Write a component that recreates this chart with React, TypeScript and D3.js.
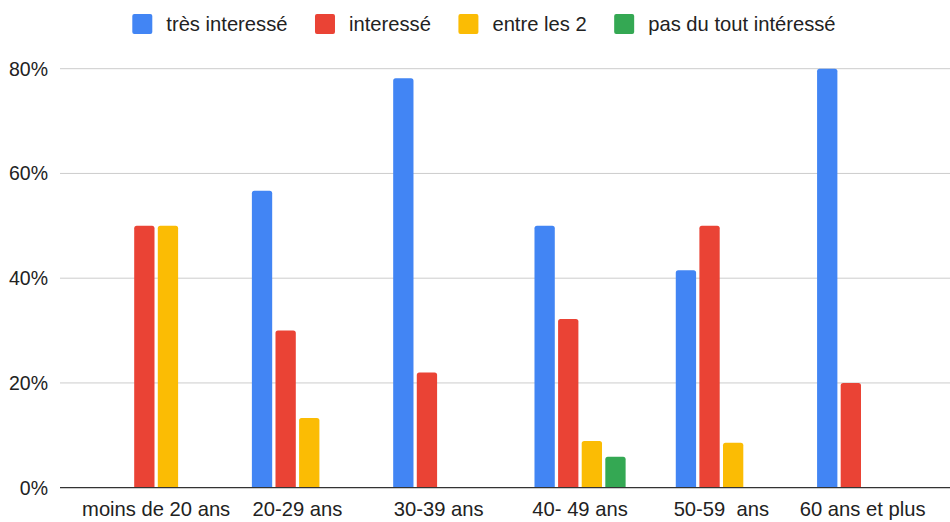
import React, { useEffect, useRef } from "react";
import * as d3 from "d3";

const categories = ["moins de 20 ans", "20-29 ans", "30-39 ans", "40- 49 ans", "50-59  ans", "60 ans et plus"];
const seriesNames = ["très interessé", "interessé", "entre les 2", "pas du tout intéressé"];
const seriesColors = ["#4285F4", "#EA4335", "#FBBC04", "#34A853"];
const tresInteresse = [0, 56.7, 78.2, 50, 41.5, 80];
const interesse = [50, 30, 22, 32.2, 50, 20];
const entreLes2 = [50, 13.3, 0, 8.9, 8.6, 0];
const pasDuTout = [0, 0, 0, 5.9, 0, 0];
const yTicks = [0, 20, 40, 60, 80];

const seriesValues = [tresInteresse, interesse, entreLes2, pasDuTout];

const W = 950;
const H = 522;
const FONT = "Arial, 'Liberation Sans', sans-serif";

function topRoundedRect(x: number, y: number, w: number, h: number, r: number) {
  const rr = Math.min(r, h, w / 2);
  return `M${x},${y + h}V${y + rr}Q${x},${y} ${x + rr},${y}H${x + w - rr}Q${x + w},${y} ${x + w},${y + rr}V${y + h}Z`;
}

export default function App() {
  const ref = useRef<SVGSVGElement>(null);

  useEffect(() => {
    const svg = d3.select(ref.current);
    svg.selectAll("*").remove();

    const y = d3.scaleLinear().domain([0, 80]).range([487.7, 68.7]);
    const x0 = d3.scaleBand<string>().domain(categories).range([85.5, 933.3]).paddingInner(0.355).paddingOuter(0.1775);
    const x1 = d3.scaleBand<string>().domain(seriesNames).range([0, x0.bandwidth()]).paddingInner(0.14);

    // gridlines
    svg.append("g")
      .selectAll("line")
      .data(yTicks.filter((t) => t !== 0))
      .join("line")
      .attr("x1", 60)
      .attr("x2", W)
      .attr("y1", (d) => y(d))
      .attr("y2", (d) => y(d))
      .attr("stroke", "#cccccc")
      .attr("stroke-width", 1);

    // y labels
    svg.append("g")
      .selectAll("text")
      .data(yTicks)
      .join("text")
      .attr("x", 48)
      .attr("y", (d) => y(d) + 7)
      .attr("text-anchor", "end")
      .attr("font-family", FONT)
      .attr("font-size", 19.5)
      .attr("fill", "#222222")
      .text((d) => `${d}%`);

    // bars
    const g = svg.append("g");
    categories.forEach((c, ci) => {
      seriesNames.forEach((s, si) => {
        const v = seriesValues[si][ci];
        if (!v) return;
        const bx = (x0(c) as number) + (x1(s) as number);
        const by = y(v);
        g.append("path")
          .attr("d", topRoundedRect(bx, by, x1.bandwidth(), y(0) - by, 2.5))
          .attr("fill", seriesColors[si]);
      });
    });

    // baseline
    svg.append("line")
      .attr("x1", 60)
      .attr("x2", W)
      .attr("y1", y(0))
      .attr("y2", y(0))
      .attr("stroke", "#333333")
      .attr("stroke-width", 1.3);

    // x labels
    svg.append("g")
      .selectAll("text")
      .data(categories)
      .join("text")
      .attr("x", (d) => (x0(d) as number) + x0.bandwidth() / 2)
      .attr("y", 516)
      .attr("text-anchor", "middle")
      .attr("font-family", FONT)
      .attr("font-size", 20.2)
      .attr("fill", "#222222")
      .style("white-space", "pre")
      .text((d) => d);

    // legend
    const lg = svg.append("g");
    let lx = 132.3;
    seriesNames.forEach((s, i) => {
      lg.append("rect")
        .attr("x", lx)
        .attr("y", 14)
        .attr("width", 20)
        .attr("height", 20)
        .attr("rx", 2)
        .attr("fill", seriesColors[i]);
      const t = lg.append("text")
        .attr("x", lx + 34)
        .attr("y", 31)
        .attr("font-family", FONT)
        .attr("font-size", 20.2)
        .attr("fill", "#222222")
        .text(s);
      const tw = (t.node() as SVGTextElement).getComputedTextLength();
      lx = lx + 34 + tw + 27.5;
    });
  }, []);

  return (
    <svg
      ref={ref}
      width={W}
      height={H}
      style={{ position: "absolute", left: 0, top: 0, background: "#ffffff" }}
    />
  );
}
